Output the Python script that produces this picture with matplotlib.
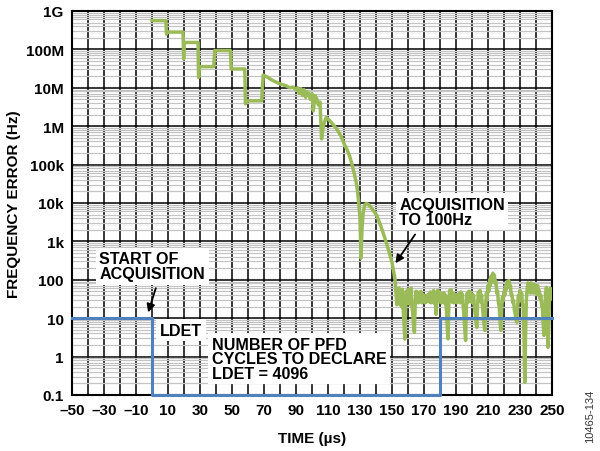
import numpy as np
import matplotlib.pyplot as plt
from matplotlib.ticker import LogLocator, NullFormatter

plt.rcParams['font.family'] = ['Liberation Sans', 'DejaVu Sans']
plt.rcParams['font.weight'] = 'bold'

# frequency error trace, lock-in part: time (us) and log10(error in Hz)
t_lock = [0, 8.7, 9.0, 9.5, 19.4, 19.8, 20.1, 28.8, 29.1, 29.5, 38.6, 39.2, 49.0, 49.5,
          58.0, 58.4, 59.0, 68.5, 69.5, 72, 75, 80, 84, 86, 88, 90, 91, 92, 93, 94, 95,
          96, 97, 98, 99, 100, 100.8, 101.9, 103, 104, 105, 106, 107, 108.8, 111, 113,
          115.4, 118, 120, 122, 123.75, 125, 126.5, 128, 129, 130, 130.6, 131.2, 132, 133,
          134, 135.5, 137, 140.4, 143, 145.6, 148, 150, 151.9]
log_lock = [8.75, 8.75, 8.40, 8.45, 8.45, 7.75, 8.18, 8.18, 7.27, 7.55, 7.55, 7.97, 7.97, 7.49,
            7.49, 6.58, 6.66, 6.66, 7.33, 7.28, 7.20, 7.10, 7.05, 7.00, 7.02, 6.95, 7.00, 6.85,
            6.98, 6.80, 6.95, 6.75, 6.90, 6.85, 6.70, 6.85, 6.40, 6.80, 6.70, 6.55, 6.63, 5.67,
            6.00, 6.23, 6.15, 6.05, 5.93, 5.75, 5.55, 5.38, 5.19, 5.00, 4.75, 4.46, 4.10, 3.60,
            2.56, 3.30, 3.75, 3.95, 3.99, 3.95, 3.88, 3.68, 3.40, 3.08, 2.75, 2.45, 2.02]

# noise floor after acquisition, sampled every 0.5 us from 153 to 250 us (log10 Hz)
t_floor = np.arange(153, 250.01, 0.5)
log_floor = [1.35, 1.75, 1.40, 1.78, 1.35, 1.72, 1.30, 1.75, 1.20, 0.90,
             0.46, 1.30, 1.70, 1.40, 1.75, 1.38, 1.72, 1.35, 1.78, 1.30,
             1.10, 0.80, 0.63, 1.35, 1.70, 1.42, 1.68, 1.40, 1.65, 1.45,
             1.70, 1.40, 1.62, 1.45, 1.60, 1.40, 1.58, 1.42, 1.60, 1.45,
             1.62, 1.42, 1.68, 1.40, 1.66, 1.44, 1.72, 1.38, 1.60, 1.10,
             1.40, 1.72, 1.45, 1.70, 1.42, 1.65, 1.40, 1.62, 1.42, 1.66,
             1.38, 1.60, 1.20, 0.80, 0.46, 1.30, 1.72, 1.45, 1.74, 1.42,
             1.65, 1.40, 1.62, 1.42, 1.60, 1.40, 1.62, 1.45, 1.64, 1.40,
             1.68, 1.45, 1.62, 1.30, 1.00, 0.70, 0.42, 1.30, 1.65, 1.42,
             1.70, 1.45, 1.68, 1.42, 1.62, 1.40, 1.60, 1.30, 1.10, 0.90,
             0.76, 1.35, 1.68, 1.45, 1.72, 1.42, 1.60, 1.30, 1.05, 0.85,
             0.68, 1.30, 1.65, 1.50, 1.85, 1.70, 2.00, 1.85, 2.10, 1.95,
             2.17, 2.00, 2.12, 1.90, 1.95, 1.65, 1.70, 1.40, 1.30, 0.95,
             0.68, 1.25, 1.55, 1.45, 1.70, 1.60, 1.85, 1.75, 1.95, 1.85,
             1.98, 1.80, 1.85, 1.60, 1.62, 1.40, 1.45, 1.20, 1.10, 0.95,
             0.89, 1.30, 1.60, 1.45, 1.72, 1.50, 1.65, 1.40, 1.30, 0.50,
             -0.67, 0.60, 1.50, 1.75, 1.92, 1.70, 1.85, 1.65, 1.92, 1.70,
             1.85, 1.65, 1.88, 1.68, 1.82, 1.62, 1.85, 1.60, 1.72, 1.50,
             1.60, 1.35, 1.25, 0.85, 0.55, 1.30, 1.65, 1.80, 1.60, 0.24,
             0.90, 1.60, 1.78, 1.50, 1.70]

# LDET output
t_ldet = [-50, 0, 0, 180, 180, 250]
ldet = [10, 10, 0.1, 0.1, 10, 10]

yticks = [0.1, 1, 10, 100, 1e3, 1e4, 1e5, 1e6, 1e7, 1e8, 1e9]
ylabels = ['0.1', '1', '10', '100', '1k', '10k', '100k', '1M', '10M', '100M', '1G']
xticks = list(range(-50, 251, 10))
xlabels = [(str(v).replace('-', '\u2013') if (v + 50) % 20 == 0 else '') for v in xticks]

t_err = np.concatenate([t_lock, t_floor])
err = 10 ** np.concatenate([log_lock, log_floor])

fig = plt.figure(figsize=(6, 4.52), dpi=100)
ax = fig.add_axes([0.12, 0.124, 0.8, 0.8495])

ax.plot(t_err, err, color='#9bbb59', lw=2.5, zorder=3)
ax.plot(t_ldet, ldet, color='#4f81bd', lw=2.2, zorder=4, clip_on=False)

ax.set_yscale('log')
ax.set_ylim(0.1, 1e9)
ax.set_xlim(-50, 250)
ax.set_yticks(yticks)
ax.set_yticklabels(ylabels)
ax.yaxis.set_minor_locator(LogLocator(base=10, subs=np.arange(2, 10), numticks=20))
ax.yaxis.set_minor_formatter(NullFormatter())
ax.set_xticks(xticks)
ax.set_xticklabels(xlabels)
ax.tick_params(which='both', length=0, labelsize=11, pad=6)
ax.grid(True, which='major', color='black', lw=1.1, zorder=1)
ax.grid(True, which='minor', axis='y', color='#c4c4c4', lw=0.9, zorder=0)
ax.set_axisbelow(True)
for s in ax.spines.values():
    s.set_linewidth(1.5)

ax.set_xlabel('TIME (\u00b5s)', fontsize=11, fontweight='bold', labelpad=10)
ax.set_ylabel('FREQUENCY ERROR (Hz)', fontsize=11, fontweight='bold', labelpad=3)

box = dict(facecolor='white', edgecolor='none', pad=2.5)
fs = 11.6
ax.text(154.5, 10 ** 3.77, 'ACQUISITION\nTO 100Hz', fontsize=fs, fontweight='bold',
        va='center', ha='left', linespacing=1.0, bbox=box, zorder=6)
ax.annotate('', xy=(151.2, 10 ** 2.37), xytext=(165.4, 10 ** 3.24),
            arrowprops=dict(arrowstyle='-|>', color='black', lw=1.3, mutation_scale=12), zorder=7)
ax.text(-32.9, 10 ** 2.35, 'START OF\nACQUISITION', fontsize=fs, fontweight='bold',
        va='center', ha='left', linespacing=1.0, bbox=box, zorder=6)
ax.annotate('', xy=(-2.9, 10 ** 1.08), xytext=(2.9, 10 ** 1.85),
            arrowprops=dict(arrowstyle='-|>', color='black', lw=1.3, mutation_scale=12), zorder=7)
ax.text(5, 10 ** 0.69, 'LDET', fontsize=fs, fontweight='bold',
        va='center', ha='left', bbox=box, zorder=6)
ax.text(37.3, 10 ** -0.06, 'NUMBER OF PFD\nCYCLES TO DECLARE\nLDET = 4096', fontsize=fs,
        fontweight='bold', va='center', ha='left', linespacing=0.95, bbox=box, zorder=6)

fig.text(0.983, 0.078, '10465-134', rotation=90, fontsize=8, fontweight='normal',
         color='#333333', ha='center', va='center')

fig.savefig('out.png', dpi=100)
